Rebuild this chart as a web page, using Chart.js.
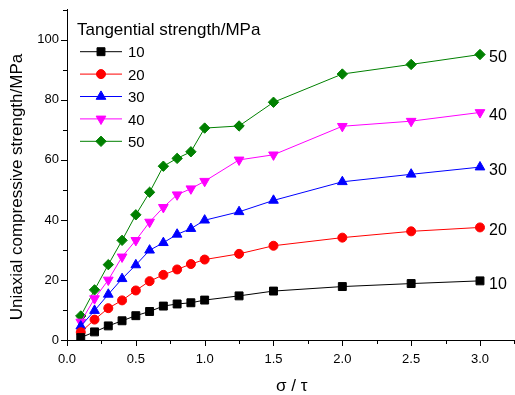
<!DOCTYPE html>
<html>
<head>
<meta charset="utf-8">
<script src="https://cdn.jsdelivr.net/npm/chart.js@4.4.0/dist/chart.umd.min.js"></script>
<style>
  html, body { margin: 0; padding: 0; background: #fff; overflow: hidden; }
  /* a bit wider than the window so the plot box reaches the right edge */
  #wrap { width: 521px; height: 395px; }
</style>
</head>
<body>
<div id="wrap"><canvas id="c"></canvas></div>
<script>
// sigma / tau ratio (x values)
const ratio = [0.1, 0.2, 0.3, 0.4, 0.5, 0.6, 0.7, 0.8, 0.9, 1.0, 1.25, 1.5, 2.0, 2.5, 3.0];

// uniaxial compressive strength (MPa) per tangential strength
const ucs10 = [0.8, 2.7, 4.7, 6.4, 8.1, 9.5, 11.3, 12.0, 12.4, 13.3, 14.7, 16.3, 17.8, 18.8, 19.7];
const ucs20 = [2.6, 6.8, 10.6, 13.2, 16.5, 19.6, 21.7, 23.5, 25.3, 26.8, 28.7, 31.4, 34.1, 36.2, 37.5];
const ucs30 = [4.6, 9.8, 15.2, 20.4, 25.0, 29.9, 32.4, 35.2, 37.1, 39.9, 42.7, 46.5, 52.7, 55.2, 57.6];
const ucs40 = [6.0, 13.8, 20.0, 27.7, 33.2, 39.3, 44.2, 48.4, 50.4, 52.9, 60.0, 61.7, 71.2, 72.9, 75.8];
const ucs50 = [8.0, 16.7, 25.1, 33.2, 41.7, 49.2, 57.9, 60.5, 62.7, 70.6, 71.3, 79.2, 88.6, 91.8, 95.1];

const seriesLabels = ['10', '20', '30', '40', '50'];
const legendTitle = 'Tangential strength/MPa';
const xTitle = 'σ / τ';
const yTitle = 'Uniaxial compressive strength/MPa';

const FONT = 'Arial, "Liberation Sans", sans-serif';

function makeSet(label, values, color, style, radius, rotation) {
  return {
    label: label,
    data: ratio.map((x, i) => ({ x: x, y: values[i] })),
    borderColor: color,
    backgroundColor: color,
    borderWidth: 1,
    pointStyle: style,
    pointRadius: radius,
    pointHoverRadius: radius,
    pointRotation: rotation || 0,
    pointBorderWidth: 1,
    pointBorderColor: color,
    pointBackgroundColor: color,
    tension: 0
  };
}

const datasets = [
  makeSet(seriesLabels[0], ucs10, '#000000', 'rect', 5.6),
  makeSet(seriesLabels[1], ucs20, '#ff0000', 'circle', 4.5),
  makeSet(seriesLabels[2], ucs30, '#0000ff', 'triangle', 5.6),
  makeSet(seriesLabels[3], ucs40, '#ff00ff', 'triangle', 5.6, 180),
  makeSet(seriesLabels[4], ucs50, '#008000', 'rectRot', 5.2)
];

// tick marks: long on labelled ticks, short on the others
const tickMarks = {
  id: 'tickMarks',
  afterDraw(chart) {
    const ctx = chart.ctx;
    const xs = chart.scales.x, ys = chart.scales.y;
    ctx.save();
    ctx.strokeStyle = '#000';
    ctx.lineWidth = 1;
    ctx.beginPath();
    xs.ticks.forEach(t => {
      const px = Math.round(xs.getPixelForValue(t.value)) + 0.5;
      const major = Math.abs(t.value * 2 - Math.round(t.value * 2)) < 1e-6;
      ctx.moveTo(px, ys.bottom);
      ctx.lineTo(px, ys.bottom + (major ? 6 : 4));
    });
    ys.ticks.forEach(t => {
      const py = Math.round(ys.getPixelForValue(t.value)) + 0.5;
      const major = t.value % 20 === 0;
      ctx.moveTo(xs.left, py);
      ctx.lineTo(xs.left - (major ? 6 : 4), py);
    });
    ctx.stroke();
    ctx.restore();
  }
};

// axis titles, legend in the upper left, series labels at the line ends
const boxLegend = {
  id: 'boxLegend',
  afterDraw(chart) {
    const ctx = chart.ctx;
    const area = chart.chartArea;
    ctx.save();
    ctx.fillStyle = '#000';
    ctx.textAlign = 'center';
    ctx.textBaseline = 'middle';
    ctx.font = '17px ' + FONT;
    ctx.fillText(xTitle, (area.left + area.right) / 2 + 1, 386);
    ctx.save();
    ctx.translate(17, 187);
    ctx.rotate(-Math.PI / 2);
    ctx.fillText(yTitle, 0, 0);
    ctx.restore();

    ctx.textAlign = 'left';
    ctx.textBaseline = 'alphabetic';
    ctx.font = '17px ' + FONT;
    ctx.fillText(legendTitle, 77, 35);
    chart.data.datasets.forEach((ds, i) => {
      const y = 51.7 + i * 22.4;
      ctx.strokeStyle = ds.borderColor;
      ctx.lineWidth = 1;
      ctx.beginPath();
      ctx.moveTo(80, y);
      ctx.lineTo(122, y);
      ctx.stroke();
      ctx.fillStyle = ds.borderColor;
      Chart.helpers.drawPoint(ctx, {
        pointStyle: ds.pointStyle,
        radius: ds.pointRadius,
        rotation: ds.pointRotation,
        borderWidth: 1
      }, 101, y);
      ctx.fillStyle = '#000';
      ctx.font = '15px ' + FONT;
      ctx.fillText(ds.label, 128, y + 5.6);

      const meta = chart.getDatasetMeta(i);
      const last = meta.data[meta.data.length - 1];
      ctx.font = '16px ' + FONT;
      ctx.fillText(ds.label, last.x + 9, last.y + 7.8);
    });
    ctx.restore();
  }
};

new Chart(document.getElementById('c'), {
  type: 'line',
  data: { datasets: datasets },
  options: {
    responsive: true,
    maintainAspectRatio: false,
    animation: false,
    layout: { padding: { top: 7, right: 0, bottom: 0, left: 0 } },
    plugins: {
      legend: { display: false },
      tooltip: { enabled: false }
    },
    scales: {
      x: {
        type: 'linear',
        min: 0,
        max: 3.25,
        afterFit(scale) { scale.height = 55; },
        border: { display: true, color: '#000', width: 1 },
        grid: { display: true, drawOnChartArea: false, drawTicks: true, tickLength: 6, tickColor: 'rgba(0,0,0,0)' },
        ticks: {
          stepSize: 0.25,
          autoSkip: false,
          maxRotation: 0,
          padding: 6,
          color: '#000',
          font: { family: FONT, size: 13 },
          callback: v => (Math.abs(v * 2 - Math.round(v * 2)) < 1e-6 ? v.toFixed(1) : '')
        }
      },
      y: {
        min: 0,
        max: 110,
        afterFit(scale) { scale.width = 67; },
        border: { display: true, color: '#000', width: 1 },
        grid: { display: true, drawOnChartArea: false, drawTicks: true, tickLength: 6, tickColor: 'rgba(0,0,0,0)' },
        ticks: {
          stepSize: 10,
          autoSkip: false,
          padding: 2,
          color: '#000',
          font: { family: FONT, size: 13 },
          callback: v => (v % 20 === 0 ? String(v) : '')
        }
      }
    }
  },
  plugins: [tickMarks, boxLegend]
});
</script>
</body>
</html>
